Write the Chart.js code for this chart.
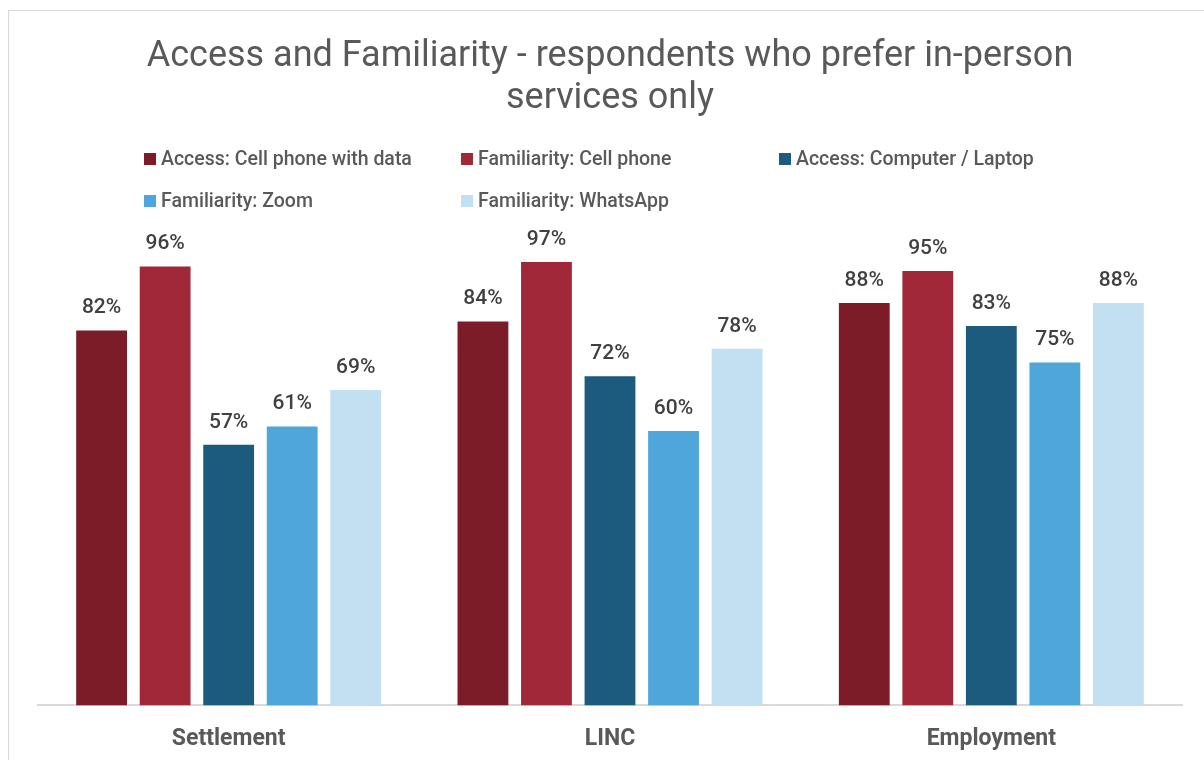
<!DOCTYPE html>
<html>
<head>
<meta charset="utf-8">
<script src="https://cdn.jsdelivr.net/npm/chart.js@4"></script>
<style>
    body { margin: 0; background: #fff; overflow: hidden; }
    #caixa { position: absolute; left: 8px; top: 10px; width: 1206px; height: 760px; border: 1px solid #d9d9d9; box-sizing: border-box; }
    #legenda { position: absolute; left: 0; top: 0; font-family: Roboto, sans-serif; font-size: 19.5px; font-weight: 500; color: #595959; }
    .item { position: absolute; white-space: nowrap; line-height: 24px; }
    .item span { display: inline-block; width: 12px; height: 12px; margin-right: 5px; vertical-align: 0px; }
</style>
</head>
<body>
<div id="caixa">
    <canvas id="graficoAcesso"></canvas>
    <div id="legenda"></div>
</div>
<script>
const categorias = ['Settlement', 'LINC', 'Employment']
const series = ['Access: Cell phone with data', 'Familiarity: Cell phone', 'Access: Computer / Laptop', 'Familiarity: Zoom', 'Familiarity: WhatsApp']
const acessoCelular = [82, 84, 88]
const familiaridadeCelular = [96, 97, 95]
const acessoComputador = [57, 72, 83]
const familiaridadeZoom = [61, 60, 75]
const familiaridadeWhatsapp = [69, 78, 88]
const cores = ['#7b1c28', '#a02838', '#1c5a7e', '#4fa6da', '#c3e0f2']

const valores = [acessoCelular, familiaridadeCelular, acessoComputador, familiaridadeZoom, familiaridadeWhatsapp]

// legenda no estilo do Excel, em colunas
const posicoesLegenda = [[135, 136], [452, 136], [770, 136], [135, 178], [452, 178]]
const legenda = document.getElementById('legenda')
series.forEach((nome, i) => {
    const item = document.createElement('div')
    item.className = 'item'
    item.style.left = posicoesLegenda[i][0] + 'px'
    item.style.top = posicoesLegenda[i][1] + 'px'
    item.innerHTML = '<span style="background:' + cores[i] + '"></span>' + nome
    legenda.appendChild(item)
})

const rotulos = {
    id: 'rotulos',
    afterDatasetsDraw(grafico) {
        const ctx = grafico.ctx
        ctx.save()
        ctx.font = '500 21px Roboto'
        ctx.fillStyle = '#404040'
        ctx.textAlign = 'center'
        ctx.textBaseline = 'bottom'
        grafico.data.datasets.forEach((dataset, i) => {
            grafico.getDatasetMeta(i).data.forEach((barra, j) => {
                ctx.fillText(dataset.data[j] + '%', barra.x, barra.y - 12)
            })
        })
        ctx.restore()
    }
}

const grafico = new Chart(document.getElementById('graficoAcesso'), {
    type: 'bar',
    data: {
        labels: categorias,
        datasets: series.map((nome, i) => ({
            label: nome,
            data: valores[i],
            backgroundColor: cores[i],
            categoryPercentage: 0.833,
            barPercentage: 0.8
        }))
    },
    options: {
        responsive: true,
        maintainAspectRatio: false,
        animation: false,
        layout: { padding: { left: 29, right: 31, top: 10, bottom: 4 } },
        plugins: {
            legend: { display: false },
            tooltip: { enabled: false },
            title: {
                display: true,
                text: ['Access and Familiarity - respondents who prefer in-person', 'services only'],
                color: '#595959',
                font: { family: 'Roboto', size: 36, weight: 'normal', lineHeight: 1.17 },
                padding: { top: 15, bottom: 128 }
            }
        },
        scales: {
            x: {
                grid: { display: false },
                border: { color: '#d9d9d9', width: 2 },
                ticks: { color: '#595959', font: { family: 'Roboto', size: 23, weight: 'bold' }, padding: 12 }
            },
            y: { display: false, min: 0, max: 100 }
        }
    },
    plugins: [rotulos]
})
</script>
</body>
</html>
